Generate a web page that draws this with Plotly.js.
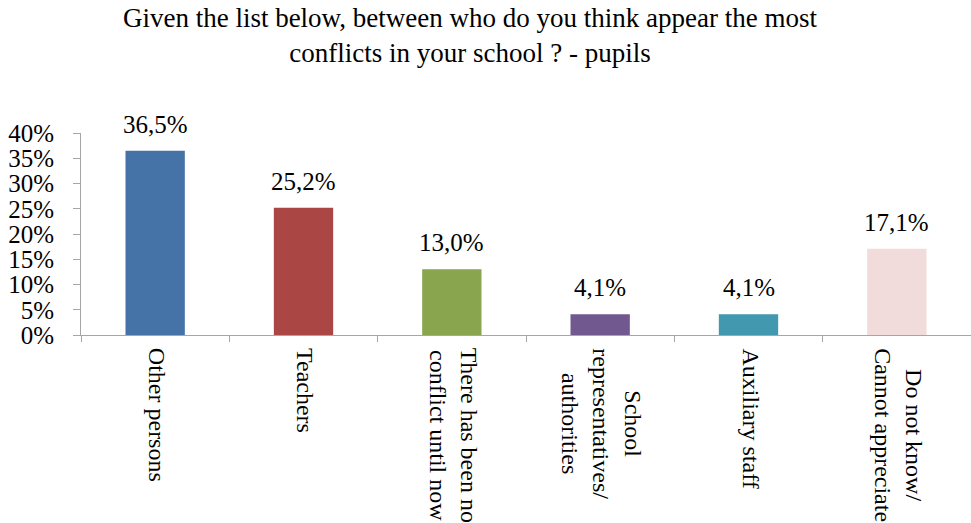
<!DOCTYPE html>
<html>
<head>
<meta charset="utf-8">
<script src="https://cdn.plot.ly/plotly-3.0.1.min.js"></script>
<style>html,body{margin:0;padding:0;background:#fff;}#chart{width:971px;height:523px;}</style>
</head>
<body>
<div id="chart"></div>
<script>
var categories = ["Other persons", "Teachers", "There has been no<br>conflict until now", "School<br>representatives/<br>authorities", "Auxiliary staff", "Do not know/<br>Cannot appreciate"];
var values = [36.5, 25.2, 13.0, 4.1, 4.1, 17.1];
var colors = ["#4572A7", "#AA4643", "#89A54E", "#71588F", "#4198AF", "#F2DCDB"];
var yTickVals = [0, 5, 10, 15, 20, 25, 30, 35, 40];
var titleText = "Given the list below, between who do you think appear the most<br>conflicts in your school ? - pupils";

var font = "Liberation Serif, Times New Roman, serif";
var ids = categories.map(function(c, i){ return "c" + i; });
var yTickText = yTickVals.map(function(v){ return v + "%"; });

var annotations = [];
values.forEach(function(v, i){
  annotations.push({
    x: ids[i], y: v, xref: "x", yref: "y",
    text: v.toFixed(1).replace(".", ",") + "%",
    showarrow: false, yanchor: "bottom", yshift: 11,
    font: {family: font, size: 25, color: "#000"}
  });
});
categories.forEach(function(c, i){
  annotations.push({
    x: ids[i], y: 0, xref: "x", yref: "paper",
    text: c, textangle: 90, align: "center",
    showarrow: false, yanchor: "top", xanchor: "center", yshift: -11, xshift: 2,
    font: {family: font, size: 24, color: "#000"}
  });
});

var trace = {
  type: "bar",
  x: ids,
  y: values,
  marker: {color: colors},
  hoverinfo: "skip"
};

var layout = {
  width: 971, height: 523,
  margin: {l: 81, r: 0, t: 133, b: 188},
  paper_bgcolor: "#fff", plot_bgcolor: "#fff",
  showlegend: false,
  bargap: 0.6,
  title: {
    text: titleText, x: 0.484, xanchor: "center", y: 0.948, yanchor: "top", yref: "container",
    font: {family: font, size: 27, color: "#000"}
  },
  xaxis: {
    type: "category", showticklabels: false, showline: true, linecolor: "#A6A6A6", linewidth: 1,
    ticks: "outside", tickson: "boundaries", ticklen: 6, tickcolor: "#A6A6A6",
    showgrid: false, zeroline: false, fixedrange: true
  },
  yaxis: {
    range: [0, 40], tickmode: "array", tickvals: yTickVals, ticktext: yTickText,
    showline: true, linecolor: "#A6A6A6", linewidth: 1,
    ticks: "outside", ticklen: 7, tickcolor: "#A6A6A6",
    ticklabelstandoff: 14,
    showgrid: false, zeroline: false,
    tickfont: {family: font, size: 25, color: "#000"}
  },
  annotations: annotations
};

Plotly.newPlot("chart", [trace], layout, {displayModeBar: false, staticPlot: true});
</script>
</body>
</html>
